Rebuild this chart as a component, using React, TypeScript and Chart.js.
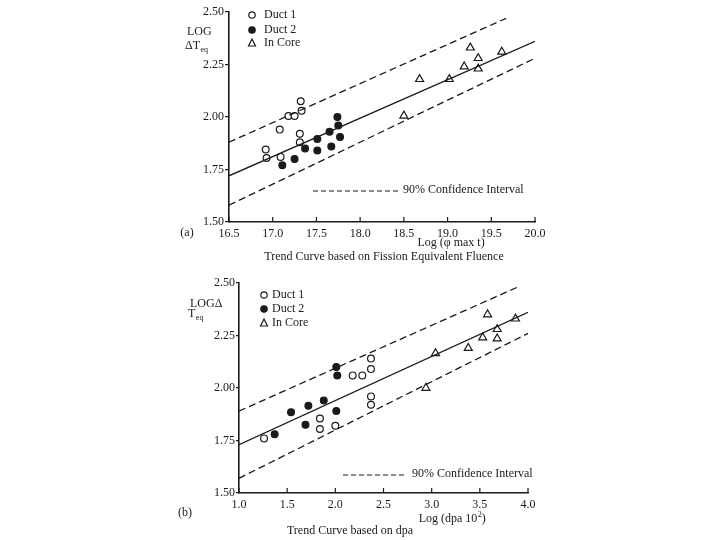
import React, { useEffect, useRef } from "react";
import { Chart, registerables } from "chart.js";
Chart.register(...registerables);

// ---------- Panel (a): Fission Equivalent Fluence ----------
const aXTicks = [16.5, 17.0, 17.5, 18.0, 18.5, 19.0, 19.5, 20.0];
const aYTicks = [1.5, 1.75, 2.0, 2.25, 2.5];
const aDuct1X = [16.92, 16.93, 17.08, 17.09, 17.18, 17.25, 17.31, 17.31, 17.32, 17.33];
const aDuct1Y = [1.845, 1.805, 1.94, 1.81, 2.005, 2.005, 1.92, 1.88, 2.075, 2.03];
const aDuct2X = [17.11, 17.25, 17.37, 17.51, 17.51, 17.65, 17.67, 17.74, 17.75, 17.77];
const aDuct2Y = [1.77, 1.8, 1.85, 1.84, 1.895, 1.93, 1.86, 2.0, 1.96, 1.905];
const aCoreX = [18.5, 18.68, 19.02, 19.19, 19.26, 19.35, 19.35, 19.62];
const aCoreY = [2.006, 2.18, 2.18, 2.24, 2.33, 2.28, 2.23, 2.31];
const aTrendX = [16.5, 20.0];
const aTrendY = [1.72, 2.36];
const aUpperX = [16.5, 19.67];
const aUpperY = [1.88, 2.47];
const aLowerX = [16.5, 20.0];
const aLowerY = [1.58, 2.28];

// ---------- Panel (b): dpa ----------
const bXTicks = [1.0, 1.5, 2.0, 2.5, 3.0, 3.5, 4.0];
const bYTicks = [1.5, 1.75, 2.0, 2.25, 2.5];
const bDuct1X = [1.26, 1.84, 1.84, 2.0, 2.18, 2.28, 2.37, 2.37, 2.37, 2.37];
const bDuct1Y = [1.76, 1.855, 1.805, 1.82, 2.06, 2.06, 2.14, 2.09, 1.96, 1.92];
const bDuct2X = [1.37, 1.54, 1.69, 1.72, 1.88, 2.01, 2.01, 2.02];
const bDuct2Y = [1.78, 1.885, 1.825, 1.915, 1.94, 1.89, 2.1, 2.06];
const bCoreX = [2.94, 3.04, 3.38, 3.53, 3.58, 3.68, 3.68, 3.87];
const bCoreY = [2.0, 2.165, 2.19, 2.24, 2.35, 2.28, 2.235, 2.33];
const bTrendX = [1.0, 4.0];
const bTrendY = [1.73, 2.36];
const bUpperX = [1.0, 3.89];
const bUpperY = [1.89, 2.48];
const bLowerX = [1.0, 4.0];
const bLowerY = [1.57, 2.26];

const legendLabels = ["Duct 1", "Duct 2", "In Core"];
const ciLabel = "90% Confidence Interval";

const INK = "#1a1a1a";
const SERIF = "'Liberation Serif', 'DejaVu Serif', serif";

const pts = (xs: number[], ys: number[]) => xs.map((x, i) => ({ x, y: ys[i] }));

function markerDataset(label: string, xs: number[], ys: number[], kind: number) {
  return {
    label,
    data: pts(xs, ys),
    pointStyle: kind === 2 ? "triangle" : "circle",
    pointRadius: kind === 2 ? 4.6 : 3.4,
    backgroundColor: kind === 1 ? INK : "#ffffff",
    borderColor: INK,
    borderWidth: 1.2,
    showLine: false,
  };
}

function lineDataset(label: string, xs: number[], ys: number[], dashed: boolean) {
  return {
    label,
    data: pts(xs, ys),
    showLine: true,
    pointRadius: 0,
    borderColor: INK,
    borderWidth: 1.3,
    borderDash: dashed ? [7, 4] : [],
    fill: false,
  };
}

function drawMarker(ctx: CanvasRenderingContext2D, kind: number, x: number, y: number) {
  ctx.save();
  ctx.lineWidth = 1.2;
  ctx.strokeStyle = INK;
  ctx.setLineDash([]);
  ctx.beginPath();
  if (kind === 2) {
    ctx.moveTo(x, y - 4);
    ctx.lineTo(x + 3.5, y + 3);
    ctx.lineTo(x - 3.5, y + 3);
    ctx.closePath();
    ctx.fillStyle = "#fff";
  } else {
    ctx.arc(x, y, 3.2, 0, Math.PI * 2);
    ctx.fillStyle = kind === 1 ? INK : "#fff";
  }
  ctx.fill();
  ctx.stroke();
  ctx.restore();
}

type PanelSpec = {
  xTicks: number[];
  yTicks: number[];
  xDecimals: number;
  datasets: any[];
  yAxisWidth: number;
  xAxisHeight: number;
  padTop: number;
  padRight: number;
  yTickLen: number;
  texts: { t: string; x: number; y: number; align: CanvasTextAlign; size?: number; sub?: string; sup?: string }[];
  legend: { x: number; y: number[]; textX: number };
  ci: { x1: number; x2: number; y: number; textX: number };
};

function Panel({ spec, top }: { spec: PanelSpec; top: number }) {
  const ref = useRef<HTMLCanvasElement | null>(null);
  useEffect(() => {
    if (!ref.current) return;
    const annot = {
      id: "annot",
      afterDraw(chart: any) {
        const ctx: CanvasRenderingContext2D = chart.ctx;
        const xs = chart.scales.x;
        const area = chart.chartArea;
        // inward x ticks
        ctx.save();
        ctx.strokeStyle = INK;
        ctx.lineWidth = 1.2;
        spec.xTicks.forEach((v) => {
          const px = xs.getPixelForValue(v);
          ctx.beginPath();
          ctx.moveTo(px, area.bottom);
          ctx.lineTo(px, area.bottom - 5);
          ctx.stroke();
        });
        ctx.restore();
        // texts
        ctx.save();
        ctx.fillStyle = INK;
        ctx.textBaseline = "middle";
        spec.texts.forEach((tx) => {
          const size = tx.size || 12;
          ctx.font = `${size}px ${SERIF}`;
          let w = ctx.measureText(tx.t).width;
          let extra = "";
          let extraW = 0;
          let tail = "";
          let tailW = 0;
          if (tx.sub || tx.sup) {
            extra = (tx.sub || tx.sup) as string;
            ctx.font = `${Math.round(size * 0.65)}px ${SERIF}`;
            extraW = ctx.measureText(extra).width;
            if (tx.sup) {
              tail = ")";
              ctx.font = `${size}px ${SERIF}`;
              tailW = ctx.measureText(tail).width;
            }
          }
          const total = w + extraW + tailW;
          let x0 = tx.x;
          if (tx.align === "center") x0 = tx.x - total / 2;
          else if (tx.align === "right") x0 = tx.x - total;
          ctx.textAlign = "left";
          ctx.font = `${size}px ${SERIF}`;
          ctx.fillText(tx.t, x0, tx.y);
          if (extra) {
            ctx.font = `${Math.round(size * 0.65)}px ${SERIF}`;
            ctx.fillText(extra, x0 + w + 0.5, tx.sub ? tx.y + 4 : tx.y - 4);
          }
          if (tail) {
            ctx.font = `${size}px ${SERIF}`;
            ctx.fillText(tail, x0 + w + extraW + 0.5, tx.y);
          }
        });
        // legend
        ctx.font = `12px ${SERIF}`;
        legendLabels.forEach((lab, i) => {
          drawMarker(ctx, i, spec.legend.x, spec.legend.y[i]);
          ctx.fillStyle = INK;
          ctx.textAlign = "left";
          ctx.fillText(lab, spec.legend.textX, spec.legend.y[i]);
        });
        // CI legend
        ctx.strokeStyle = INK;
        ctx.lineWidth = 1;
        ctx.setLineDash([5, 3]);
        ctx.beginPath();
        ctx.moveTo(spec.ci.x1, spec.ci.y);
        ctx.lineTo(spec.ci.x2, spec.ci.y);
        ctx.stroke();
        ctx.setLineDash([]);
        ctx.font = `12px ${SERIF}`;
        ctx.fillText(ciLabel, spec.ci.textX, spec.ci.y - 1);
        ctx.restore();
      },
    };
    const chart = new Chart(ref.current, {
      type: "scatter",
      data: { datasets: spec.datasets },
      options: {
        animation: false,
        responsive: false,
        maintainAspectRatio: false,
        events: [],
        layout: { padding: { top: spec.padTop, right: spec.padRight, left: 0, bottom: 0 } },
        plugins: { legend: { display: false }, tooltip: { enabled: false }, title: { display: false } },
        scales: {
          x: {
            type: "linear",
            min: spec.xTicks[0],
            max: spec.xTicks[spec.xTicks.length - 1],
            afterBuildTicks: (s: any) => {
              s.ticks = spec.xTicks.map((v) => ({ value: v }));
            },
            ticks: {
              autoSkip: false,
              maxRotation: 0,
              padding: 5,
              color: INK,
              font: { family: SERIF, size: 12 },
              callback: (v: any) => Number(v).toFixed(spec.xDecimals),
            },
            grid: { drawOnChartArea: false, drawTicks: false },
            border: { display: true, color: INK, width: 1.6 },
            afterFit: (s: any) => {
              s.height = spec.xAxisHeight;
            },
          },
          y: {
            type: "linear",
            min: spec.yTicks[0],
            max: spec.yTicks[spec.yTicks.length - 1],
            afterBuildTicks: (s: any) => {
              s.ticks = spec.yTicks.map((v) => ({ value: v }));
            },
            ticks: {
              autoSkip: false,
              padding: 1,
              color: INK,
              font: { family: SERIF, size: 12 },
              callback: (v: any) => Number(v).toFixed(2),
            },
            grid: { drawOnChartArea: false, drawTicks: true, tickLength: spec.yTickLen, color: INK, lineWidth: 1.2 },
            border: { display: true, color: INK, width: 1.6 },
            afterFit: (s: any) => {
              s.width = spec.yAxisWidth;
            },
          },
        },
      } as any,
      plugins: [annot],
    });
    return () => chart.destroy();
  }, []);
  return (
    <canvas
      ref={ref}
      width={720}
      height={270}
      style={{ position: "absolute", left: 0, top, width: 720, height: 270, display: "block" }}
    />
  );
}

const specA: PanelSpec = {
  xTicks: aXTicks,
  yTicks: aYTicks,
  xDecimals: 1,
  datasets: [
    lineDataset("Trend", aTrendX, aTrendY, false),
    lineDataset("Upper 90%", aUpperX, aUpperY, true),
    lineDataset("Lower 90%", aLowerX, aLowerY, true),
    markerDataset("Duct 1", aDuct1X, aDuct1Y, 0),
    markerDataset("Duct 2", aDuct2X, aDuct2Y, 1),
    markerDataset("In Core", aCoreX, aCoreY, 2),
  ],
  yAxisWidth: 229,
  xAxisHeight: 48,
  padTop: 12,
  padRight: 185,
  yTickLen: 4,
  texts: [
    { t: "LOG", x: 187, y: 32, align: "left" },
    { t: "ΔT", x: 185, y: 46, align: "left", sub: "eq" },
    { t: "(a)", x: 187, y: 233, align: "center" },
    { t: "Log (φ max t)", x: 451, y: 243, align: "center" },
    { t: "Trend Curve based on Fission Equivalent Fluence", x: 384, y: 257, align: "center" },
  ],
  legend: { x: 252, y: [15, 30, 43], textX: 264 },
  ci: { x1: 313, x2: 400, y: 191, textX: 403 },
};

const specB: PanelSpec = {
  xTicks: bXTicks,
  yTicks: bYTicks,
  xDecimals: 1,
  datasets: [
    lineDataset("Trend", bTrendX, bTrendY, false),
    lineDataset("Upper 90%", bUpperX, bUpperY, true),
    lineDataset("Lower 90%", bLowerX, bLowerY, true),
    markerDataset("Duct 1", bDuct1X, bDuct1Y, 0),
    markerDataset("Duct 2", bDuct2X, bDuct2Y, 1),
    markerDataset("In Core", bCoreX, bCoreY, 2),
  ],
  yAxisWidth: 239,
  xAxisHeight: 47,
  padTop: 13,
  padRight: 192,
  yTickLen: 3,
  texts: [
    { t: "LOGΔ", x: 190, y: 34, align: "left" },
    { t: "T", x: 188, y: 44, align: "left", sub: "eq" },
    { t: "(b)", x: 185, y: 243, align: "center" },
    { t: "Log (dpa 10", x: 452, y: 249, align: "center", sup: "2" },
    { t: "Trend Curve based on dpa", x: 350, y: 261, align: "center" },
  ],
  legend: { x: 264, y: [25, 39, 53], textX: 272 },
  ci: { x1: 343, x2: 407, y: 205, textX: 412 },
};

export default function App() {
  return (
    <div style={{ position: "absolute", left: 0, top: 0, width: 720, height: 540, background: "#fff" }}>
      <Panel spec={specA} top={0} />
      <Panel spec={specB} top={270} />
    </div>
  );
}
